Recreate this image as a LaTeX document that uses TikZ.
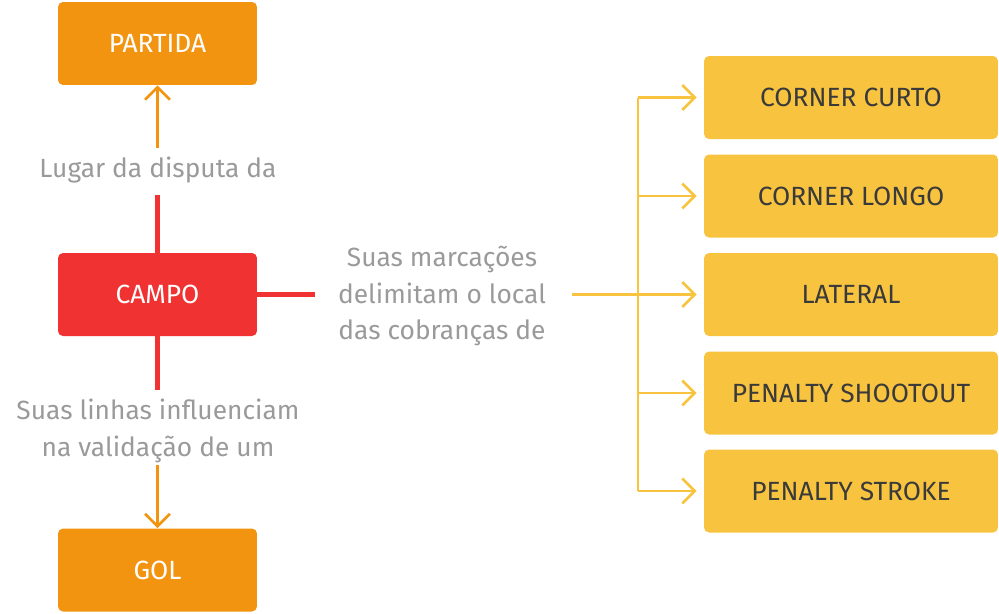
\documentclass[tikz,border=0pt]{standalone}
\usepackage{fontspec}
\setmainfont{Fira Sans}
\usetikzlibrary{arrows.meta}
\definecolor{laranja}{HTML}{F39410}
\definecolor{vermelho}{HTML}{F03232}
\definecolor{amarelo}{HTML}{F8C440}
\definecolor{cinza}{HTML}{9A9A9A}
\definecolor{escuro}{HTML}{3A3A3A}
\tikzset{
  caixa/.style={rounded corners=0.1cm, minimum height=1.66cm, inner sep=0pt, font=\fontsize{15}{18}\selectfont},
  rotulo/.style={text=cinza, align=center, font=\fontsize{15}{21}\selectfont},
  seta/.style={-{Straight Barb[length=2.5mm,width=5mm]}, line width=1.5pt}
}
\begin{document}
\begin{tikzpicture}[x=0.02cm,y=-0.02cm]
		\useasboundingbox (0,0) rectangle (999,613);
		\node[caixa,fill=laranja,text=white,minimum width=3.98cm](partida) at (157.5,43.5) {PARTIDA};
		\node[caixa,fill=vermelho,text=white,minimum width=3.98cm](campo) at (157.5,294.5) {CAMPO};
		\node[caixa,fill=laranja,text=white,minimum width=3.98cm](gol) at (157.5,570) {GOL};
		\node[caixa,fill=amarelo,text=escuro,minimum width=5.88cm](curto) at (851,97.5) {CORNER CURTO};
		\node[caixa,fill=amarelo,text=escuro,minimum width=5.88cm](longo) at (851,196) {CORNER LONGO};
		\node[caixa,fill=amarelo,text=escuro,minimum width=5.88cm](lateral) at (851,294.5) {LATERAL};
		\node[caixa,fill=amarelo,text=escuro,minimum width=5.88cm](shootout) at (851,393) {PENALTY SHOOTOUT};
		\node[caixa,fill=amarelo,text=escuro,minimum width=5.88cm](stroke) at (851,491) {PENALTY STROKE};
		\node[rotulo](lugar) at (158,170) {Lugar da disputa da};
		\node[rotulo](linhas) at (158,431) {Suas linhas influenciam\\na validação de um};
		\node[rotulo](marcas) at (442,296) {Suas marcações\\delimitam o local\\das cobranças de};
		% ligacoes
		\coordinate (c1) at (157.5,195);
		\coordinate (c2) at (157.5,148);
		\coordinate (c3) at (157.5,390);
		\coordinate (c4) at (157.5,465);
		\coordinate (c5) at (315,294.5);
		\coordinate (c6) at (572,294.5);
		\coordinate (bus) at (638,294.5);
		\draw[vermelho,line width=3pt] (campo.north) -- (c1);
		\draw[vermelho,line width=3pt] (campo.south) -- (c3);
		\draw[vermelho,line width=3pt] (campo.east) -- (c5);
		\draw[laranja,seta] (c2) -- (partida.south);
		\draw[laranja,seta] (c4) -- (gol.north);
		\draw[amarelo,line width=1.5pt] (c6) -- (bus);
		\draw[amarelo,line width=1.5pt] (bus |- curto) -- (bus |- stroke);
		\foreach \n in {curto,longo,lateral,shootout,stroke}
			\draw[amarelo,seta] (bus |- \n) -- ([xshift=-0.14cm]\n.west);
\end{tikzpicture}
\end{document}
